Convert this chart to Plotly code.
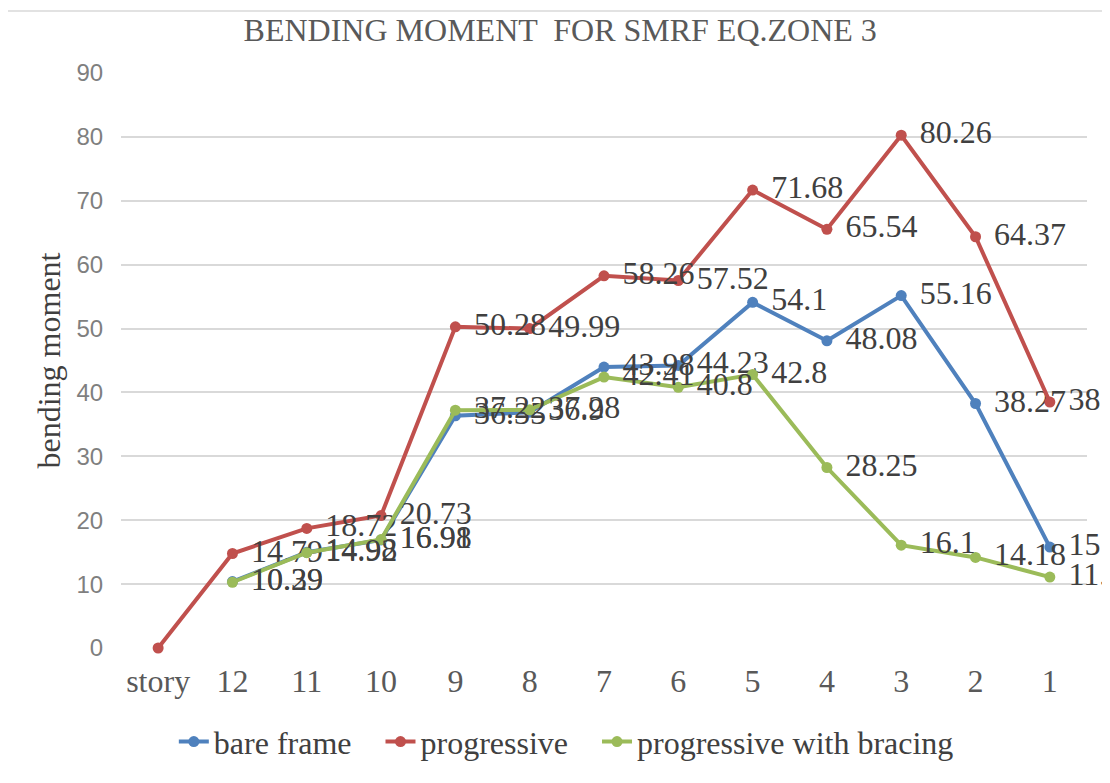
import plotly.graph_objects as go

categories = ["story", "12", "11", "10", "9", "8", "7", "6", "5", "4", "3", "2", "1"]
bare_frame = [None, 10.39, 14.98, 16.91, 36.35, 36.9, 43.98, 44.23, 54.1, 48.08, 55.16, 38.27, 15.8]
progressive = [0, 14.79, 18.72, 20.73, 50.28, 49.99, 58.26, 57.52, 71.68, 65.54, 80.26, 64.37, 38.5]
progressive_bracing = [None, 10.29, 14.92, 16.98, 37.22, 37.28, 42.41, 40.8, 42.8, 28.25, 16.1, 14.18, 11.1]
y_ticks = [0, 10, 20, 30, 40, 50, 60, 70, 80, 90]

SERIF = "Liberation Serif, Times New Roman, serif"
SANS = "Liberation Sans, Arial, sans-serif"


def labels(vals, hide_zero=False):
    out = []
    for v in vals:
        if v is None or (hide_zero and v == 0):
            out.append("")
        else:
            out.append("\u2004" + f"{v:g}")
    return out


series = [
    ("bare frame", bare_frame, "#4F81BD", False),
    ("progressive", progressive, "#C0504D", True),
    ("progressive with bracing", progressive_bracing, "#9BBB59", False),
]

fig = go.Figure()
for i, (name, vals, color, hz) in enumerate(series):
    pad = "\u00a0\u00a0\u00a0" if i < len(series) - 1 else ""
    fig.add_trace(go.Scatter(
        x=categories, y=vals, name=name + pad, mode="lines+markers+text",
        line=dict(color=color, width=4),
        marker=dict(color=color, size=11),
        text=labels(vals, hz), textposition="middle right",
        textfont=dict(family=SERIF, size=32, color="#404040"),
        cliponaxis=False, connectgaps=False,
    ))

fig.update_layout(
    width=1110, height=783,
    paper_bgcolor="white", plot_bgcolor="white",
    margin=dict(l=113, r=31, t=65, b=143, autoexpand=False),
    title=dict(text="BENDING MOMENT  FOR SMRF EQ.ZONE 3", x=0.4975, xanchor="center",
               y=0.972, yanchor="middle",
               font=dict(family=SERIF, size=32, color="#595959")),
    xaxis=dict(type="category", categoryorder="array", categoryarray=categories,
               range=[-0.5, len(categories) - 0.5], autorange=False,
               showgrid=False, showline=False, zeroline=False, automargin=False,
               ticks="outside", ticklen=5, tickcolor="rgba(0,0,0,0)",
               tickfont=dict(family=SERIF, size=32, color="#595959")),
    yaxis=dict(range=[0, 90], autorange=False, tickvals=y_ticks, showgrid=True,
               gridcolor="#D9D9D9", gridwidth=1.5, zeroline=False, showline=False,
               automargin=False,
               ticks="outside", ticklen=12, tickcolor="rgba(0,0,0,0)",
               tickfont=dict(family=SANS, size=24, color="#7F7F7F"),
               title=dict(text="bending moment", standoff=6,
                          font=dict(family=SERIF, size=32, color="#404040"))),
    legend=dict(orientation="h", x=0.461, xanchor="center", y=-0.163, yanchor="middle",
                font=dict(family=SERIF, size=32, color="#404040"),
                itemwidth=30, bgcolor="rgba(0,0,0,0)"),
    showlegend=True,
    shapes=[dict(type="rect", xref="paper", yref="paper", x0=-0.118, x1=1.05,
                 y0=-0.3, y1=1.108, line=dict(color="#D9D9D9", width=1.5),
                 fillcolor="rgba(0,0,0,0)", layer="below")],
)

fig.write_html("out.html")
